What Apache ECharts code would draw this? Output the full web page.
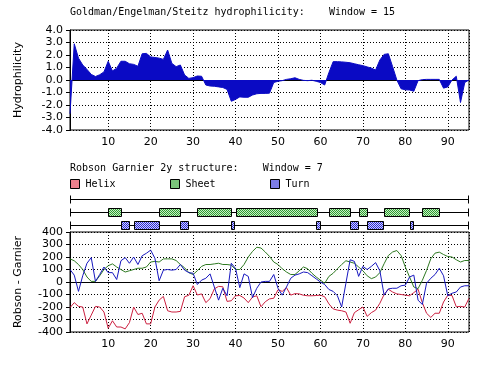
<!DOCTYPE html>
<html><head><meta charset="utf-8">
<script src="https://cdn.jsdelivr.net/npm/echarts@6/dist/echarts.min.js"></script>
<style>html,body{margin:0;padding:0;background:#fff}#c{width:500px;height:370px}</style>
</head><body><div id="c"></div>
<script>
// ---- data ----
const hydroTitle = 'Goldman/Engelman/Steitz hydrophilicity:    Window = 15';
const rgTitle = 'Robson Garnier 2y structure:    Window = 7';
const xMin = 1, xMax = 95;
const xTickLabels = [10, 20, 30, 40, 50, 60, 70, 80, 90];
const hydroTicks = [-4, -3, -2, -1, 0, 1, 2, 3, 4];
const rgTicks = [-400, -300, -200, -100, 0, 100, 200, 300, 400];

const hydrophilicity = [
  -2.7, 2.9, 1.75, 1.2, 0.85, 0.45, 0.28, 0.42, 0.65, 1.5,
  0.72, 0.95, 1.5, 1.5, 1.3, 1.25, 1.1, 2.1, 2.13, 1.85,
  1.8, 1.75, 1.65, 2.4, 1.33, 1.07, 1.2, 0.4, 0.13, 0.19,
  0.32, 0.3, -0.4, -0.48, -0.5, -0.55, -0.6, -0.75, -1.7, -1.55,
  -1.35, -1.38, -1.38, -1.2, -1.1, -1.07, -1.07, -1.05, -0.2, -0.1,
  -0.05, 0.05, 0.1, 0.18, 0.05, -0.03, -0.05, -0.02, -0.1, -0.2,
  -0.4, 0.6, 1.47, 1.47, 1.45, 1.42, 1.38, 1.3, 1.22, 1.15,
  1.05, 0.95, 0.8, 1.6, 2.05, 2.1, 1.07, 0.0, -0.7, -0.78,
  -0.8, -0.9, -0.05, 0.03, 0.05, 0.05, 0.05, 0.05, -0.65, -0.55,
  0.0, 0.3, -1.8, -0.2, 0.0
];
const helixScore = [
  -205, -165, -195, -200, -335, -265, -195, -200, -240, -370,
  -310, -360, -360, -375, -325, -200, -260, -250, -335, -335,
  -200, -145, -115, -230, -240, -240, -235, -118, -106, -30,
  -104, -95, -165, -133, -55, -35, -38, -155, -150, -110,
  -108, -128, -165, -120, -110, -198, -158, -135, -130, -62,
  -75, -45, -105, -93, -95, -106, -110, -110, -108, -105,
  -118, -175, -215, -225, -230, -240, -330, -245, -222, -200,
  -275, -245, -225, -170, -100, -58, -80, -95, -100, -105,
  -110, -85, -58, -165, -250, -283, -250, -250, -160, -106,
  -108, -198, -195, -200, -130
];
const sheetScore = [
  185, 170, 140, 100, 40, 5, 5, 50, 100, 130,
  145, 120, 100, 80, 90, 100, 110, 110, 120, 160,
  165, 160, 185, 185, 185, 172, 140, 114, 75, 60,
  90, 125, 140, 140, 145, 150, 140, 140, 135, 100,
  100, 140, 200, 245, 278, 272, 240, 205, 160, 140,
  106, 80, 60, 60, 90, 120, 106, 70, 40, 15,
  -10, 45, 70, 106, 140, 170, 160, 150, 120, 90,
  50, 27, 40, 75, 146, 212, 240, 252, 212, 120,
  40, -40, -53, 13, 93, 186, 231, 239, 220, 204,
  200, 178, 160, 172, 172
];
const turnScore = [
  100, 55, -75, 50, 150, 195, 5, 60, 120, 75,
  75, 20, 170, 195, 150, 200, 140, 210, 230, 255,
  190, 10, 95, 100, 95, 100, 140, 95, 75, 70,
  -20, 15, 30, 65, -40, -145, -50, -110, 150, 108,
  -45, 65, 45, -125, -50, 0, 5, 5, 60, -50,
  -105, -40, 30, 55, 65, 80, 75, 50, 25, 0,
  -20, -60, -75, -110, -200, -10, 178, 165, 45, 125,
  100, 125, 155, 90, -105, -55, -50, -50, -30, -25,
  40, 55, -145, -180, -10, 30, 60, 110, 50, -110,
  -90, -80, -40, -30, -30
];
const helixSegments = [];
const sheetSegments = [[10, 13], [22, 27], [31, 39], [40, 59], [62, 67], [69, 71], [75, 81], [84, 88]];
const turnSegments = [[13, 15], [16, 22], [27, 29], [39, 39.8], [59, 60], [67, 69], [71, 74.7], [81, 81.8]];
const trackNames = ['Helix', 'Sheet', 'Turn'];
const trackLevels = [2.5, 1.5, 0.5];

// ---- styling helpers ----
function checker(c1, c2) {
  const cv = document.createElement('canvas');
  cv.width = 2; cv.height = 2;
  const g = cv.getContext('2d');
  g.fillStyle = c2; g.fillRect(0, 0, 2, 2);
  g.fillStyle = c1; g.fillRect(0, 0, 1, 1); g.fillRect(1, 1, 1, 1);
  return { image: cv, repeat: 'repeat' };
}
const patHelix = checker('#d8283c', '#ffd8dc');
const patSheet = checker('#2e9e2e', '#c8ecc8');
const patTurn = checker('#2a2ad0', '#d0d0ff');
const pats = { Helix: patHelix, Sheet: patSheet, Turn: patTurn };

const mono = 'DejaVu Sans Mono';
const sans = 'DejaVu Sans';
const dotted = { show: true, lineStyle: { color: '#000', type: [1, 2], width: 1 } };

function xAxisCfg(gi, show) {
  return {
    type: 'value', gridIndex: gi, min: xMin, max: xMax, splitNumber: 9, show: show,
    axisLine: { show: true, lineStyle: { color: '#000' } },
    axisTick: { show: false },
    axisLabel: { show: show, showMinLabel: false, showMaxLabel: false, color: '#000', fontFamily: sans, fontSize: 11, margin: 7,
      formatter: v => (xTickLabels.indexOf(v) >= 0 ? String(v) : '') },
    splitLine: show ? dotted : { show: false }
  };
}

function pair(arr) { return arr.map((v, i) => [i + 1, v]); }

function trackRender(params, api) {
  const y = api.value(0);
  const a = api.coord([xMin, y]), b = api.coord([xMax, y]);
  const yy = Math.round(a[1]) + 0.5;
  const x1 = Math.round(a[0]) + 0.5, x2 = Math.round(b[0]) - 0.5;
  const st = { stroke: '#000', lineWidth: 1 };
  return { type: 'group', children: [
    { type: 'line', shape: { x1: x1, y1: yy, x2: x2, y2: yy }, style: st },
    { type: 'line', shape: { x1: x1, y1: yy - 4, x2: x1, y2: yy + 4 }, style: st },
    { type: 'line', shape: { x1: x2, y1: yy - 4, x2: x2, y2: yy + 4 }, style: st }
  ] };
}
function segRenderFor(pat) {
  return function (params, api) {
    const y = api.value(2);
    const p1 = api.coord([api.value(0), y]);
    const p2 = api.coord([api.value(1), y]);
    const h = 8;
    return { type: 'rect',
      shape: { x: Math.round(p1[0]) + 0.5, y: Math.round(p1[1] - h / 2) + 0.5, width: Math.max(2, Math.round(p2[0] - p1[0])), height: h },
      style: { fill: pat, stroke: '#000', lineWidth: 1 } };
  };
}

function legendFor(name, left) {
  return {
    left: left, top: 174, itemWidth: 9, itemHeight: 9, itemGap: 0, selectedMode: false,
    textStyle: { fontFamily: mono, fontSize: 10, color: '#000', padding: [0, 0, 0, 1] },
    data: [{ name: name, icon: 'rect', itemStyle: { color: pats[name], borderColor: '#000', borderWidth: 1 } }]
  };
}

const chart = echarts.init(document.getElementById('c'), null, { renderer: 'canvas' });
chart.setOption({
  animation: false,
  backgroundColor: '#fff',
  title: [
    { text: hydroTitle, left: 65, top: 2, textStyle: { fontFamily: mono, fontSize: 10, fontWeight: 'normal', color: '#000' } },
    { text: rgTitle, left: 65, top: 158, textStyle: { fontFamily: mono, fontSize: 10, fontWeight: 'normal', color: '#000' } }
  ],
  legend: [legendFor('Helix', 65), legendFor('Sheet', 165), legendFor('Turn', 265)],
  grid: [
    { left: 70, top: 30, width: 399, height: 100, show: true, borderColor: '#000', borderWidth: 1, backgroundColor: 'transparent' },
    { left: 70, top: 193, width: 399, height: 38.4, show: false },
    { left: 70, top: 232, width: 399, height: 100, show: true, borderColor: '#000', borderWidth: 1, backgroundColor: 'transparent' }
  ],
  xAxis: [xAxisCfg(0, true), xAxisCfg(1, false), xAxisCfg(2, true)],
  yAxis: [
    { type: 'value', gridIndex: 0, min: -4, max: 4, interval: 1,
      name: 'Hydrophilicity', nameLocation: 'middle', nameGap: 46, nameRotate: 90,
      nameTextStyle: { fontFamily: sans, fontSize: 11, color: '#000' },
      axisLine: { show: true, lineStyle: { color: '#000' } },
      axisTick: { show: true, length: 4, lineStyle: { color: '#000' } },
      axisLabel: { color: '#000', fontFamily: sans, fontSize: 11, margin: 7, formatter: v => v.toFixed(1) },
      splitLine: dotted },
    { type: 'value', gridIndex: 1, min: 0, max: 3, show: false, splitLine: { show: false } },
    { type: 'value', gridIndex: 2, min: -400, max: 400, interval: 100,
      name: 'Robson - Garnier', nameLocation: 'middle', nameGap: 46, nameRotate: 90,
      nameTextStyle: { fontFamily: sans, fontSize: 11, color: '#000' },
      axisLine: { show: true, lineStyle: { color: '#000' } },
      axisTick: { show: true, length: 4, lineStyle: { color: '#000' } },
      axisLabel: { color: '#000', fontFamily: sans, fontSize: 11, margin: 7 },
      splitLine: dotted }
  ],
  series: [
    { type: 'line', name: 'Hydrophilicity', xAxisIndex: 0, yAxisIndex: 0, data: pair(hydrophilicity),
      symbol: 'none', silent: true, z: 3,
      lineStyle: { color: '#0a0ac4', width: 1 }, itemStyle: { color: '#0a0ac4' },
      areaStyle: { color: '#0a0ac4', opacity: 1, origin: 0 } },
    { type: 'custom', name: 'tracks', xAxisIndex: 1, yAxisIndex: 1, silent: true, z: 2,
      data: trackLevels.map(v => [v]), encode: { y: 0 }, renderItem: trackRender },
    { type: 'custom', name: 'Helix', xAxisIndex: 1, yAxisIndex: 1, silent: true, z: 4, itemStyle: { color: '#d8283c' },
      data: helixSegments.map(s => [s[0], s[1], trackLevels[0]]), encode: { x: [0, 1], y: 2 }, renderItem: segRenderFor(patHelix) },
    { type: 'custom', name: 'Sheet', xAxisIndex: 1, yAxisIndex: 1, silent: true, z: 4, itemStyle: { color: '#2e9e2e' },
      data: sheetSegments.map(s => [s[0], s[1], trackLevels[1]]), encode: { x: [0, 1], y: 2 }, renderItem: segRenderFor(patSheet) },
    { type: 'custom', name: 'Turn', xAxisIndex: 1, yAxisIndex: 1, silent: true, z: 4, itemStyle: { color: '#2a2ad0' },
      data: turnSegments.map(s => [s[0], s[1], trackLevels[2]]), encode: { x: [0, 1], y: 2 }, renderItem: segRenderFor(patTurn) },
    { type: 'line', name: 'Helix', xAxisIndex: 2, yAxisIndex: 2, data: pair(helixScore), symbol: 'none', silent: true,
      lineStyle: { color: '#cc2040', width: 1 }, itemStyle: { color: '#cc2040' } },
    { type: 'line', name: 'Sheet', xAxisIndex: 2, yAxisIndex: 2, data: pair(sheetScore), symbol: 'none', silent: true,
      lineStyle: { color: '#2f7a22', width: 1 }, itemStyle: { color: '#2f7a22' } },
    { type: 'line', name: 'Turn', xAxisIndex: 2, yAxisIndex: 2, data: pair(turnScore), symbol: 'none', silent: true,
      lineStyle: { color: '#1818c0', width: 1 }, itemStyle: { color: '#1818c0' } }
  ]
});
</script>
</body></html>
